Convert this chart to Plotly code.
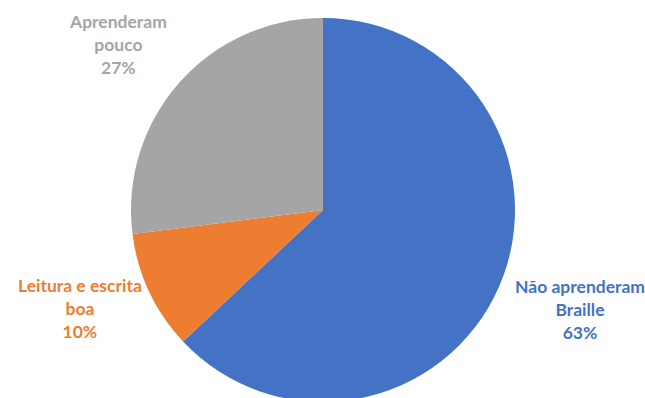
import plotly.graph_objects as go

categories = ["Não aprenderam Braille", "Leitura e escrita boa", "Aprenderam pouco"]
label_lines = [["Não aprenderam", "Braille"], ["Leitura e escrita", "boa"], ["Aprenderam", "pouco"]]
values = [63, 10, 27]
colors = ["#4472C4", "#ED7D31", "#A5A5A5"]

W, H = 645, 402
ML, MT = 1, 18
fig = go.Figure(go.Pie(
    labels=categories,
    values=values,
    sort=False,
    direction="clockwise",
    rotation=0,
    marker=dict(colors=colors, line=dict(width=0)),
    textinfo="none",
    hoverinfo="label+percent",
    showlegend=False,
    domain=dict(x=[0.0, 1.0], y=[0.0, 1.0]),
))

# label positions in pixels (center x, center y from top of figure)
label_pos = [(580, 309), (80, 308), (118, 44)]
total = sum(values)
for lines, v, c, (px, py) in zip(label_lines, values, colors, label_pos):
    pct = round(100 * v / total)
    txt = "<br>".join(f"<b>{s}</b>" for s in lines + [f"{pct}%"])
    fig.add_annotation(
        x=(px - ML) / (W - ML), y=1 - (py - MT) / (H - MT),
        xref="paper", yref="paper",
        text=txt, showarrow=False, align="center",
        xanchor="center", yanchor="middle",
        font=dict(family="Lato, sans-serif", size=17.5, color=c),
    )

fig.update_layout(
    width=W, height=H, autosize=False,
    margin=dict(l=ML, r=0, t=MT, b=0),
    paper_bgcolor="white", plot_bgcolor="white",
)

fig.write_html(
    "out.html",
    config={"displayModeBar": False},
    post_script="document.body.style.margin='0';document.body.style.overflow='hidden';document.documentElement.style.overflow='hidden';",
)
